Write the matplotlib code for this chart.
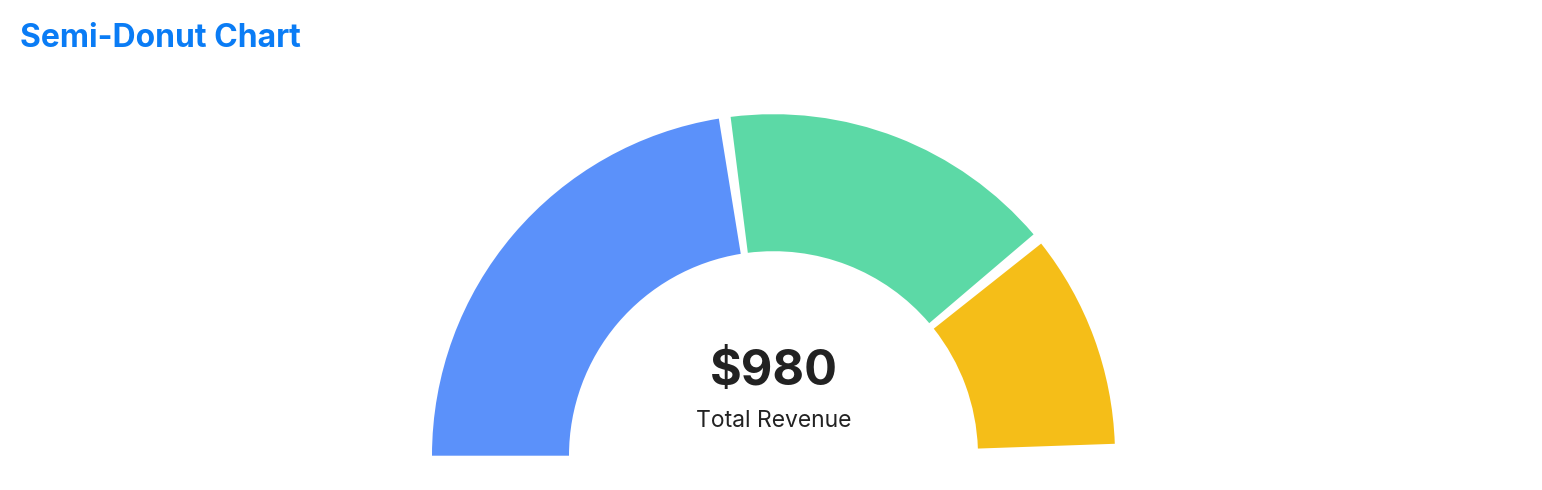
import matplotlib.pyplot as plt
from matplotlib.patches import Wedge

# slice values, total shown in the middle
labels = ["A", "B", "C"]
values = [455, 320, 205]
colors = ["#5B91FA", "#5CD9A6", "#F5BE18"]

plt.rcParams["font.family"] = ["Inter", "DejaVu Sans"]

W, H = 1542, 490
fig = plt.figure(figsize=(W / 100, H / 100), dpi=100)
ax = fig.add_axes([0, 0, 1, 1])
ax.set_xlim(0, W)
ax.set_ylim(0, H)
ax.axis("off")

# geometry of the half ring in pixels
cx, cy = 773.5, H - 455.7
r_out, r_in = 341.5, 204.5
pad = 2.0

total = sum(values)
avail = 180 - pad * len(values)
start = 180.0
for v, c in zip(values, colors):
    span = v / total * avail
    ax.add_patch(Wedge((cx, cy), r_out, start - span, start,
                       width=r_out - r_in, facecolor=c, edgecolor="none"))
    start -= span + pad

ax.text(20, H - 47, "Semi-Donut Chart", fontsize=23, fontweight="bold",
        color="#0A7CF5", ha="left", va="baseline")
ax.text(cx, H - 385, f"${total}", fontsize=35, fontweight="bold",
        color="#222222", ha="center", va="baseline")
ax.text(cx, H - 427, "Total Revenue", fontsize=16.5,
        color="#222222", ha="center", va="baseline")

fig.savefig("out.png", dpi=100)
